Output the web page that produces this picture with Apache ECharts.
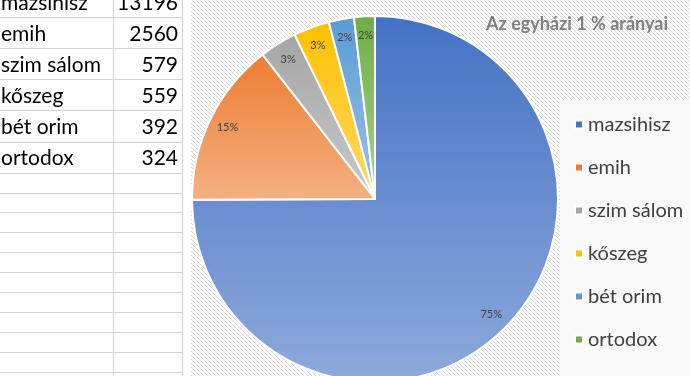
<!DOCTYPE html>
<html>
<head>
<meta charset="utf-8">
<script src="https://cdn.jsdelivr.net/npm/echarts@6/dist/echarts.min.js"></script>
<style>
  html, body { margin: 0; padding: 0; background: #fff; }
  #main { width: 690px; height: 376px; }
</style>
</head>
<body>
<div id="main"></div>
<script>
// adatok
var names = ['mazsihisz', 'emih', 'szim sálom', 'kőszeg', 'bét orim', 'ortodox'];
var values = [13196, 2560, 579, 559, 392, 324];
var baseColors = ['#4472C4', '#ED7D31', '#A5A5A5', '#FFC000', '#5B9BD5', '#70AD47'];
var lightColors = ['#8EA9DB', '#F4B183', '#C9C9C9', '#FFD966', '#9DC3E6', '#A9D18E'];
var chartTitle = 'Az egyházi 1 % arányai';

var chart = echarts.init(document.getElementById('main'));

// csíkos háttér minta
var patCanvas = document.createElement('canvas');
patCanvas.width = 4; patCanvas.height = 4;
var pctx = patCanvas.getContext('2d');
pctx.fillStyle = '#ffffff';
pctx.fillRect(0, 0, 4, 4);
pctx.fillStyle = '#d6d6d6';
for (var k = 0; k < 4; k++) { pctx.fillRect(k, k, 1, 1); }

var graphics = [];
// táblázat rácsvonalai
var rowLines = [17, 48, 79, 110, 142, 173, 193, 212, 232, 252, 272, 292, 312, 332, 352, 372];
rowLines.forEach(function (y) {
    graphics.push({ type: 'line', shape: { x1: 0, y1: y + 0.5, x2: 182, y2: y + 0.5 }, style: { stroke: '#d4d4d4', lineWidth: 1 }, silent: true });
});
[113, 182].forEach(function (x) {
    graphics.push({ type: 'line', shape: { x1: x + 0.5, y1: 0, x2: x + 0.5, y2: 376 }, style: { stroke: '#d4d4d4', lineWidth: 1 }, silent: true });
});
// cella szövegek
for (var i = 0; i < names.length; i++) {
    var cy = 31 * i + 3;
    graphics.push({ type: 'text', x: 1, y: cy, style: { text: names[i], fill: '#000', font: '21px Lato', textVerticalAlign: 'middle' }, silent: true });
    graphics.push({ type: 'text', x: 178, y: cy, style: { text: String(values[i]), fill: '#000', font: '21px Lato', textAlign: 'right', textVerticalAlign: 'middle' }, silent: true });
}
// diagram háttér
graphics.push({ type: 'rect', shape: { x: 191, y: 0, width: 499, height: 376 }, style: { fill: { image: patCanvas, repeat: 'repeat' } }, silent: true, z: -10 });
// jelmagyarázat doboz
graphics.push({ type: 'rect', shape: { x: 560, y: 100, width: 130, height: 276 }, style: { fill: '#f9f9f9' }, silent: true, z: -5 });

var pieData = names.map(function (n, idx) {
    return {
        name: n,
        value: values[idx],
        itemStyle: {
            color: new echarts.graphic.LinearGradient(0, 0, 0, 1, [
                { offset: 0, color: baseColors[idx] },
                { offset: 1, color: lightColors[idx] }
            ])
        }
    };
});

var option = {
    animation: false,
    title: {
        text: chartTitle,
        right: 17,
        top: 10,
        textStyle: { fontFamily: 'Lato', fontSize: 18, fontWeight: 'bold', color: '#808080' }
    },
    legend: {
        orient: 'vertical',
        left: 569,
        top: 108,
        icon: 'rect',
        itemWidth: 8,
        itemHeight: 8,
        itemGap: 20,
        textStyle: { fontFamily: 'Lato', fontSize: 20, color: '#404040', lineHeight: 23 },
        data: names.map(function (n, idx) {
            return { name: n, itemStyle: { color: baseColors[idx] } };
        })
    },
    graphic: graphics,
    series: [
        {
            name: 'arány',
            type: 'pie',
            center: [375, 199],
            radius: [0, 183],
            startAngle: 90,
            clockwise: true,
            label: { show: false },
            labelLine: { show: false },
            itemStyle: { borderColor: '#ffffff', borderWidth: 2 },
            data: pieData
        },
        {
            name: 'címkék',
            type: 'pie',
            center: [375, 199],
            radius: [139, 183],
            startAngle: 90,
            clockwise: true,
            silent: true,
            legendHoverLink: false,
            itemStyle: { color: 'rgba(0,0,0,0)', borderWidth: 0 },
            label: {
                show: true,
                position: 'inside',
                fontFamily: 'Lato',
                fontSize: 11,
                color: '#404040',
                formatter: function (p) { return Math.round(p.percent) + '%'; }
            },
            labelLine: { show: false },
            data: names.map(function (n, idx) { return { name: n, value: values[idx] }; })
        }
    ]
};

chart.setOption(option);
</script>
</body>
</html>
